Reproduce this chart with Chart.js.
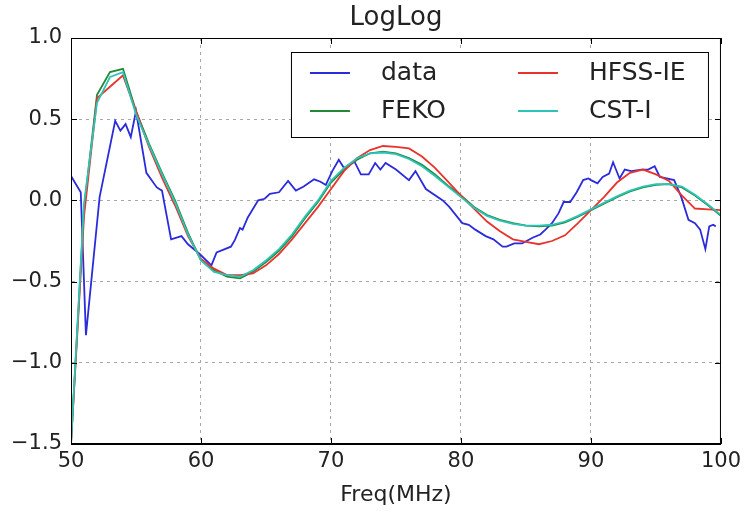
<!DOCTYPE html>
<html>
<head>
<meta charset="utf-8">
<script src="https://cdn.jsdelivr.net/npm/chart.js@4.4.0/dist/chart.umd.min.js"></script>
<style>
  html, body { margin: 0; padding: 0; background: #fff; }
  #wrap { position: relative; width: 746px; height: 511px; }
</style>
</head>
<body>
<div id="wrap"><canvas id="chart" width="746" height="511"></canvas></div>
<script>
const chartTitle = 'LogLog';
const xLabel = 'Freq(MHz)';
const xTicks = [50, 60, 70, 80, 90, 100];
const yTicks = [-1.5, -1.0, -0.5, 0.0, 0.5, 1.0];

// measured curve (noisy)
const dataFreq = [
    50.0, 50.75, 51.15, 52.2, 53.4, 53.8, 54.2, 54.6, 55.0, 55.8, 56.6, 57.0, 57.7, 58.5, 59.0, 59.9,
    60.8, 61.2, 62.3, 62.6, 63.0, 63.2, 63.6, 64.4, 64.9, 65.3, 66.0, 66.7, 67.3, 67.9, 68.7, 69.2, 69.6,
    70.1, 70.6, 71.0, 71.8, 72.3, 72.9, 73.4, 73.8, 74.2, 75.0, 76.0, 76.5, 77.3, 78.6, 79.1,
    80.1, 80.6, 81.1, 81.9, 82.5, 83.2, 83.5, 84.1, 84.7, 85.5, 86.1, 86.5, 87.0, 87.5, 87.9, 88.4, 88.9, 89.4, 89.8,
    90.0, 90.5, 90.9, 91.4, 91.7, 92.2, 92.6, 93.1, 93.9, 94.4, 94.9, 95.3, 96.4, 96.95, 97.5, 98.0, 98.4, 98.8, 99.1, 99.4, 99.6
];
const dataValues = [
    0.15, 0.05, -0.83, 0.02, 0.49, 0.43, 0.47, 0.39, 0.55, 0.17, 0.08, 0.06, -0.24, -0.22, -0.27, -0.33,
    -0.40, -0.32, -0.285, -0.245, -0.17, -0.18, -0.105, 0.0, 0.01, 0.04, 0.05, 0.12, 0.06, 0.085, 0.13, 0.115, 0.095,
    0.18, 0.25, 0.20, 0.24, 0.16, 0.16, 0.23, 0.19, 0.23, 0.19, 0.125, 0.18, 0.07, 0.0, -0.04,
    -0.14, -0.15, -0.18, -0.22, -0.24, -0.285, -0.285, -0.265, -0.265, -0.23, -0.21, -0.18, -0.14, -0.08, -0.01, -0.01, 0.05, 0.125, 0.135,
    0.125, 0.105, 0.145, 0.165, 0.235, 0.135, 0.19, 0.18, 0.19, 0.19, 0.21, 0.145, 0.125, 0.02, -0.12, -0.14, -0.18, -0.30, -0.16, -0.15, -0.16
];

// simulations, 1 MHz steps
const modelFreq = [
    50, 51, 52, 53, 54, 55, 56, 57, 58, 59, 60, 61, 62, 63, 64, 65, 66, 67, 68, 69, 70, 71, 72, 73, 74, 75,
    76, 77, 78, 79, 80, 81, 82, 83, 84, 85, 86, 87, 88, 89, 90, 91, 92, 93, 94, 95, 96, 97, 98, 99, 100
];
const fekoValues = [
    -1.50, -0.05, 0.65, 0.79, 0.81, 0.55, 0.35, 0.17, 0.00, -0.20, -0.37, -0.43, -0.47, -0.48, -0.44, -0.38,
    -0.31, -0.22, -0.11, -0.01, 0.11, 0.19, 0.25, 0.29, 0.30, 0.29, 0.26, 0.22, 0.16, 0.09, 0.03,
    -0.04, -0.09, -0.12, -0.14, -0.155, -0.16, -0.155, -0.135, -0.10, -0.06, -0.02, 0.02, 0.055, 0.08, 0.095,
    0.10, 0.08, 0.03, -0.03, -0.095
];
const hfssValues = [
    -1.50, -0.10, 0.63, 0.70, 0.77, 0.55, 0.33, 0.14, -0.03, -0.22, -0.36, -0.42, -0.46, -0.46, -0.45, -0.40,
    -0.33, -0.24, -0.14, -0.04, 0.07, 0.18, 0.26, 0.31, 0.335, 0.33, 0.32, 0.27, 0.20, 0.115, 0.03,
    -0.05, -0.13, -0.19, -0.24, -0.255, -0.27, -0.25, -0.215, -0.14, -0.06, 0.02, 0.11, 0.17, 0.19, 0.16,
    0.12, 0.03, -0.05, -0.055, -0.06
];
const cstValues = [
    -1.50, -0.02, 0.60, 0.76, 0.79, 0.53, 0.34, 0.16, -0.01, -0.21, -0.37, -0.44, -0.46, -0.47, -0.43, -0.37,
    -0.30, -0.21, -0.10, 0.00, 0.12, 0.20, 0.26, 0.29, 0.295, 0.285, 0.255, 0.21, 0.15, 0.085, 0.02,
    -0.045, -0.095, -0.125, -0.145, -0.155, -0.155, -0.15, -0.13, -0.095, -0.055, -0.015, 0.025, 0.06, 0.085, 0.10,
    0.10, 0.085, 0.035, -0.025, -0.09
];

const toPoints = (xs, ys) => xs.map((x, i) => ({ x: x, y: ys[i] }));
const fmtY = v => (v < 0 ? '\u2212' : '') + Math.abs(v).toFixed(1);

const series = [
    { label: 'data', color: '#2b2bdc', pts: toPoints(dataFreq, dataValues), order: 3 },
    { label: 'FEKO', color: '#22883a', pts: toPoints(modelFreq, fekoValues), order: 2 },
    { label: 'HFSS-IE', color: '#e8332c', pts: toPoints(modelFreq, hfssValues), order: 1 },
    { label: 'CST-I', color: '#2cc4b8', pts: toPoints(modelFreq, cstValues), order: 0 }
];

// frame, inward ticks, title and the boxed legend
const decorPlugin = {
    id: 'decor',
    afterDraw(chart) {
        const { ctx, chartArea: a, scales } = chart;
        ctx.save();
        ctx.strokeStyle = '#000';
        ctx.lineWidth = 1;
        ctx.strokeRect(a.left + 0.5, a.top + 0.5, a.right - a.left - 1, a.bottom - a.top - 1);

        const tl = 6;
        ctx.beginPath();
        xTicks.forEach(v => {
            const px = Math.round(scales.x.getPixelForValue(v)) + 0.5;
            ctx.moveTo(px, a.bottom); ctx.lineTo(px, a.bottom - tl);
            ctx.moveTo(px, a.top); ctx.lineTo(px, a.top + tl);
        });
        yTicks.forEach(v => {
            const py = Math.round(scales.y.getPixelForValue(v)) + 0.5;
            ctx.moveTo(a.left, py); ctx.lineTo(a.left + tl, py);
            ctx.moveTo(a.right, py); ctx.lineTo(a.right - tl, py);
        });
        ctx.stroke();

        ctx.fillStyle = '#222';
        ctx.font = '26px "DejaVu Sans"';
        ctx.textAlign = 'center';
        ctx.textBaseline = 'middle';
        ctx.fillText(chartTitle, (a.left + a.right) / 2, 18);

        // legend: 2 columns, filled column by column like matplotlib
        const bw = 417, bh = 85;
        const bx = a.right - 430, by = a.top + 14;
        ctx.fillStyle = '#fff';
        ctx.fillRect(bx, by, bw, bh);
        ctx.strokeStyle = '#000';
        ctx.strokeRect(bx + 0.5, by + 0.5, bw, bh);
        ctx.font = '25px "DejaVu Sans"';
        ctx.textAlign = 'left';
        series.forEach((s, i) => {
            const col = Math.floor(i / 2), row = i % 2;
            const lx = bx + 19 + col * 208;
            const ly = by + 21 + row * 38;
            ctx.strokeStyle = s.color;
            ctx.lineWidth = 1.8;
            ctx.beginPath();
            ctx.moveTo(lx, ly); ctx.lineTo(lx + 40, ly);
            ctx.stroke();
            ctx.fillStyle = '#222';
            ctx.fillText(s.label, lx + 71, ly);
        });
        ctx.restore();
    }
};

new Chart(document.getElementById('chart'), {
    type: 'line',
    data: {
        datasets: series.map(s => ({
            label: s.label,
            data: s.pts,
            borderColor: s.color,
            backgroundColor: s.color,
            borderWidth: 1.8,
            pointRadius: 0,
            tension: 0,
            fill: false,
            order: s.order
        }))
    },
    options: {
        responsive: false,
        animation: false,
        layout: { padding: { left: 0, right: 23, top: 38, bottom: 0 } },
        plugins: {
            legend: { display: false },
            tooltip: { enabled: false }
        },
        scales: {
            x: {
                type: 'linear',
                min: 50,
                max: 100,
                afterBuildTicks: s => { s.ticks = xTicks.map(v => ({ value: v })); },
                afterFit: s => { s.height = 67; },
                ticks: {
                    color: '#222',
                    font: { family: 'DejaVu Sans', size: 21 },
                    padding: 5,
                    maxRotation: 0,
                    callback: v => String(v)
                },
                grid: { color: '#a8a8a8', drawTicks: false },
                border: { display: true, color: '#000', dash: [3, 4] },
                title: {
                    display: true,
                    text: xLabel,
                    color: '#222',
                    font: { family: 'DejaVu Sans', size: 22 },
                    padding: { top: 0, bottom: 3 }
                }
            },
            y: {
                type: 'linear',
                min: -1.5,
                max: 1.0,
                afterBuildTicks: s => { s.ticks = yTicks.map(v => ({ value: v })); },
                afterFit: s => { s.width = 71; },
                ticks: {
                    color: '#222',
                    font: { family: 'DejaVu Sans', size: 21 },
                    padding: 9,
                    callback: v => fmtY(v)
                },
                grid: { color: '#a8a8a8', drawTicks: false },
                border: { display: true, color: '#000', dash: [3, 4] }
            }
        }
    },
    plugins: [decorPlugin]
});
</script>
</body>
</html>
